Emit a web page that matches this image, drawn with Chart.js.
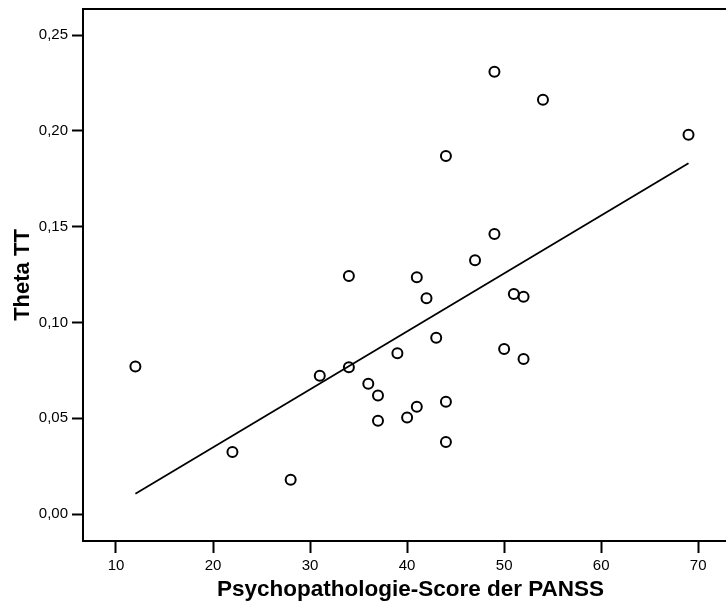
<!DOCTYPE html>
<html>
<head>
<meta charset="utf-8">
<script src="https://cdn.jsdelivr.net/npm/chart.js@4/dist/chart.umd.min.js"></script>
<style>
  html, body { margin: 0; padding: 0; background: #fff; overflow: hidden; }
  /* the SPSS plot box runs past the right edge of the picture, so the chart is a bit wider than the window */
  #wrap { width: 745px; height: 606px; position: relative; }
</style>
</head>
<body>
<div id="wrap"><canvas id="scatter"></canvas></div>
<script>
// Psychopathologie-Score (x) vs. Theta TT (y)
const panssScore = [12, 22, 28, 31, 34, 34, 36, 37, 37, 39, 40, 41, 41, 42, 43, 44, 44, 44, 47, 49, 49, 50, 51, 52, 52, 54, 69];
const thetaTT = [0.077, 0.0325, 0.018, 0.0722, 0.1243, 0.0767, 0.0681, 0.0619, 0.0487, 0.084, 0.0504, 0.1236, 0.056, 0.1127, 0.092, 0.1869, 0.0586, 0.0376, 0.1325, 0.2308, 0.1462, 0.0862, 0.1149, 0.1135, 0.081, 0.2162, 0.198];

// fitted regression line, endpoints as drawn
const fitX = [12, 69];
const fitY = [0.0107, 0.1831];

const xTicks = [10, 20, 30, 40, 50, 60, 70];
const yTicks = [0, 0.05, 0.10, 0.15, 0.20, 0.25];

const FONT = "'Liberation Sans', Arial, sans-serif";

// top frame line
const topLine = {
    id: 'topLine',
    afterDraw(chart) {
        const { ctx, chartArea } = chart;
        ctx.save();
        ctx.strokeStyle = '#000';
        ctx.lineWidth = 2;
        ctx.beginPath();
        ctx.moveTo(chartArea.left - 1, chartArea.top);
        ctx.lineTo(chartArea.right, chartArea.top);
        ctx.stroke();
        ctx.restore();
    }
};

new Chart(document.getElementById('scatter'), {
    type: 'scatter',
    data: {
        datasets: [{
            data: panssScore.map((x, i) => ({ x: x, y: thetaTT[i] })),
            pointRadius: 5,
            pointBorderWidth: 2,
            pointBorderColor: '#000',
            pointBackgroundColor: 'rgba(255,255,255,0)',
            showLine: false
        }, {
            type: 'line',
            data: fitX.map((x, i) => ({ x: x, y: fitY[i] })),
            borderColor: '#000',
            borderWidth: 1.8,
            pointRadius: 0,
            fill: false
        }]
    },
    options: {
        responsive: true,
        maintainAspectRatio: false,
        animation: false,
        layout: { padding: { top: 9, right: 0, left: 0, bottom: 0 } },
        plugins: { legend: { display: false }, tooltip: { enabled: false } },
        scales: {
            x: {
                type: 'linear',
                min: 6.6,
                max: 74.1,
                afterBuildTicks: (s) => { s.ticks = xTicks.map(v => ({ value: v })); },
                afterFit: (s) => { s.height = 65; s.paddingLeft = 0; s.paddingRight = 0; },
                grid: { display: true, drawOnChartArea: false, drawTicks: true, tickLength: 12, tickWidth: 2, tickColor: '#000' },
                border: { display: true, color: '#000', width: 2 },
                ticks: { color: '#000', padding: 4, maxRotation: 0, font: { family: FONT, size: 15 } },
                title: {
                    display: true,
                    text: 'Psychopathologie-Score der PANSS',
                    color: '#000',
                    font: { family: FONT, size: 22.5, weight: 'bold' },
                    padding: { top: 0, bottom: 3 }
                }
            },
            y: {
                type: 'linear',
                min: -0.014,
                max: 0.2636,
                afterBuildTicks: (s) => { s.ticks = yTicks.map(v => ({ value: v })); },
                afterFit: (s) => { s.width = 83; s.paddingTop = 0; s.paddingBottom = 0; },
                grid: { display: true, drawOnChartArea: false, drawTicks: true, tickLength: 11, tickWidth: 2, tickColor: '#000' },
                border: { display: true, color: '#000', width: 2 },
                ticks: {
                    color: '#000',
                    padding: 4,
                    font: { family: FONT, size: 15 },
                    callback: (v) => v.toFixed(2).replace('.', ',')
                },
                title: {
                    display: true,
                    text: 'Theta TT',
                    color: '#000',
                    font: { family: FONT, size: 22, weight: 'bold' },
                    padding: { top: 10, bottom: 0 }
                }
            }
        }
    },
    plugins: [topLine]
});
</script>
</body>
</html>
